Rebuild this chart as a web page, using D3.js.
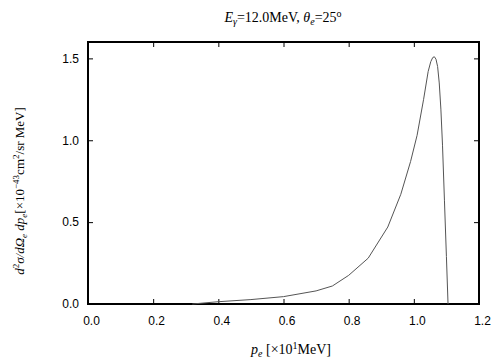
<!DOCTYPE html>
<html><head><meta charset="utf-8">
<script src="https://cdn.jsdelivr.net/npm/d3@7"></script>
<style>body{margin:0;background:#fff}svg{display:block}</style>
</head><body><svg id="c" width="504" height="360"></svg>
<script>
const pe = [0.32,0.40,0.50,0.60,0.70,0.75,0.80,0.86,0.92,0.96,0.99,1.01,1.03,1.044,1.052,1.058,1.063,1.068,1.073,1.078,1.083,1.088,1.094,1.100,1.105];
const xsec = [0,0.014,0.027,0.045,0.08,0.11,0.175,0.28,0.47,0.67,0.87,1.03,1.25,1.42,1.48,1.505,1.51,1.495,1.45,1.35,1.19,0.97,0.63,0.29,0];
const xTicks = [0,0.2,0.4,0.6,0.8,1.0,1.2];
const yTicks = [0,0.5,1.0,1.5];

const svg = d3.select("#c");
const L=88,R=479,T=42,B=304;
const x = d3.scaleLinear().domain([0,1.2]).range([L,R]);
const y = d3.scaleLinear().domain([0,1.6]).range([B,T]);
const tf = d3.format(".1f");
const sans = "Liberation Sans, Arial, sans-serif";
const serif = "Liberation Serif, Times New Roman, serif";

function styleAxis(g){
  g.select(".domain").remove();
  g.selectAll("line").attr("stroke","#000").attr("stroke-width",1);
  g.selectAll("text").attr("font-family",sans).attr("font-size",12).attr("fill","#000");
}
svg.append("g").attr("transform",`translate(0,${B})`)
  .call(d3.axisBottom(x).tickValues(xTicks).tickFormat(tf).tickSizeInner(-5).tickSizeOuter(0).tickPadding(12))
  .call(styleAxis)
  .selectAll("text").attr("dx",3);
svg.append("g").attr("transform",`translate(0,${T})`)
  .call(d3.axisTop(x).tickValues(xTicks).tickFormat("").tickSizeInner(-5).tickSizeOuter(0))
  .call(styleAxis);
svg.append("g").attr("transform",`translate(${L},0)`)
  .call(d3.axisLeft(y).tickValues(yTicks).tickFormat(tf).tickSizeInner(-5).tickSizeOuter(0).tickPadding(9))
  .call(styleAxis);
svg.append("g").attr("transform",`translate(${R},0)`)
  .call(d3.axisRight(y).tickValues(yTicks).tickFormat("").tickSizeInner(-5).tickSizeOuter(0))
  .call(styleAxis);

svg.append("rect").attr("x",L).attr("y",T).attr("width",R-L).attr("height",B-T)
  .attr("fill","none").attr("stroke","#000").attr("stroke-width",2);

const line = d3.line().x((d,i)=>x(pe[i])).y(d=>y(d));
svg.append("path").datum(xsec).attr("d",line).attr("fill","none")
  .attr("stroke","#555").attr("stroke-width",1);

// title
const t = svg.append("text").attr("x",283).attr("y",22).attr("text-anchor","middle")
  .attr("font-family",serif).attr("font-size",14).attr("fill","#000");
t.append("tspan").attr("font-style","italic").text("E");
t.append("tspan").attr("font-style","italic").attr("font-size",10).attr("dy",3).text("γ");
t.append("tspan").attr("dy",-3).text("=12.0MeV,  ");
t.append("tspan").attr("font-style","italic").text("θ");
t.append("tspan").attr("font-style","italic").attr("font-size",10).attr("dy",3).text("e");
t.append("tspan").attr("dy",-3).text("=25");
t.append("tspan").attr("font-size",10).attr("dy",-5).text("o");

// x label
const xl = svg.append("text").attr("x",291).attr("y",354).attr("text-anchor","middle")
  .attr("font-family",serif).attr("font-size",14).attr("fill","#000");
xl.append("tspan").attr("font-style","italic").text("p");
xl.append("tspan").attr("font-style","italic").attr("font-size",10).attr("dy",3).text("e");
xl.append("tspan").attr("dy",-3).text(" [×10");
xl.append("tspan").attr("font-size",10).attr("dy",-5).text("1");
xl.append("tspan").attr("dy",5).text("MeV]");

// y label
const yl = svg.append("text").attr("transform","translate(24,191) rotate(-90)").attr("text-anchor","middle")
  .attr("font-family",serif).attr("font-size",13).attr("fill","#000");
yl.append("tspan").attr("font-style","italic").text("d");
yl.append("tspan").attr("font-size",9).attr("dy",-5).text("2");
yl.append("tspan").attr("font-style","italic").attr("dy",5).text("σ/dΩ");
yl.append("tspan").attr("font-style","italic").attr("font-size",9).attr("dy",3).text("e");
yl.append("tspan").attr("font-style","italic").attr("dy",-3).text(" dp");
yl.append("tspan").attr("font-style","italic").attr("font-size",9).attr("dy",3).text("e");
yl.append("tspan").attr("dy",-3).text("[×10");
yl.append("tspan").attr("font-size",9).attr("dy",-5).text("−43");
yl.append("tspan").attr("dy",5).text("cm");
yl.append("tspan").attr("font-size",9).attr("dy",-5).text("2");
yl.append("tspan").attr("dy",5).text("/sr MeV]");
</script></body></html>
